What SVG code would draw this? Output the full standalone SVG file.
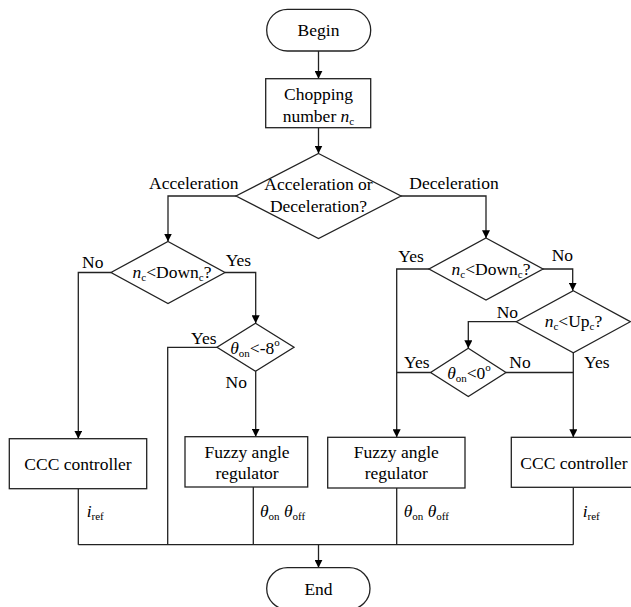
<svg xmlns="http://www.w3.org/2000/svg" width="631" height="607" viewBox="0 0 631 607">
<defs>
<marker id="ah" viewBox="0 0 10 10" refX="10" refY="5" markerWidth="8" markerHeight="8" markerUnits="userSpaceOnUse" orient="auto">
<path d="M0,0 L10,5 L0,10 z" fill="#000"/>
</marker>
<style>
.s{fill:#fff;stroke:#222;stroke-width:1.3}
.c{fill:none;stroke:#222;stroke-width:1.3}
.a{marker-end:url(#ah)}
</style>
</defs>
<rect width="631" height="607" fill="#fff"/>
<g id="connectors">
<path class="c a" d="M318.5,51 V78.7"/>
<path class="c a" d="M318.5,127.7 V153.5"/>
<path class="c a" d="M236,196 H168 V241.5"/>
<path class="c a" d="M111,272.5 H78.3 V438.7"/>
<path class="c a" d="M225,272.5 H255.7 V323.3"/>
<path class="c" d="M217,347.3 H167.7 V544.7"/>
<path class="c a" d="M255.7,371.3 V436.7"/>
<path class="c" d="M253.3,487 V544.7"/>
<path class="c" d="M78.3,488.7 V544.7"/>
<path class="c" d="M78.3,544.7 H573.3"/>
<path class="c a" d="M318.5,544.7 V567.7"/>
<path class="c a" d="M401,196 H486 V238.3"/>
<path class="c a" d="M429,269 H396.7 V437.3"/>
<path class="c a" d="M543,269 H572.7 V290.7"/>
<path class="c a" d="M516.3,321.7 H468.3 V348.3"/>
<path class="c" d="M430.6,372.5 H396.7"/>
<path class="c" d="M506,372.5 H573.3"/>
<path class="c a" d="M573.3,352.7 V437.3"/>
<path class="c" d="M396.7,488 V544.7"/>
<path class="c" d="M573.3,487.3 V544.7"/>
</g>
<g font-family="Liberation Serif" font-size="17.5" fill="#000">
<g id="begin">
<rect class="s" x="266.7" y="9.3" width="104" height="41.7" rx="20.8"/>
<text style="font-family:'Liberation Serif',serif" text-anchor="middle" x="318.5" y="36">Begin</text>
</g>
<g id="chopping">
<rect class="s" x="265.7" y="78.7" width="105" height="49"/>
<text style="font-family:'Liberation Serif',serif" text-anchor="middle" x="318.5" y="100">Chopping</text>
<text style="font-family:'Liberation Serif',serif" text-anchor="middle" x="318.5" y="121.5">number <tspan font-style="italic">n</tspan><tspan font-size="11" dy="3">c</tspan></text>
</g>
<g id="accdec">
<path class="s" d="M318.5,153.5 L401,196 L318.5,238.5 L236,196 Z"/>
<text style="font-family:'Liberation Serif',serif" text-anchor="middle" x="318.5" y="190">Acceleration or</text>
<text style="font-family:'Liberation Serif',serif" text-anchor="middle" x="318.5" y="212">Deceleration?</text>
</g>
<g id="labels-top">
<text style="font-family:'Liberation Serif',serif" text-anchor="middle" x="193.7" y="189">Acceleration</text>
<text style="font-family:'Liberation Serif',serif" text-anchor="middle" x="454" y="189">Deceleration</text>
</g>
<g id="down-left">
<path class="s" d="M168,241.5 L225,272.5 L168,303.5 L111,272.5 Z"/>
<text style="font-family:'Liberation Serif',serif" text-anchor="middle" x="172" y="278"><tspan font-style="italic">n</tspan><tspan font-size="11" dy="3">c</tspan><tspan dy="-3">&lt;Down</tspan><tspan font-size="11" dy="3">c</tspan><tspan dy="-3">?</tspan></text>
<text style="font-family:'Liberation Serif',serif" x="82" y="267.5">No</text>
<text style="font-family:'Liberation Serif',serif" x="225.7" y="266">Yes</text>
</g>
<g id="theta-left">
<path class="s" d="M255.5,323.3 L294,347.3 L255.5,371.3 L217,347.3 Z"/>
<text style="font-family:'Liberation Serif',serif" text-anchor="middle" x="255" y="354"><tspan font-style="italic">&#952;</tspan><tspan font-size="11" dy="3">on</tspan><tspan dy="-3">&lt;-8</tspan><tspan font-size="11" dy="-8">o</tspan></text>
<text style="font-family:'Liberation Serif',serif" x="191" y="344">Yes</text>
<text style="font-family:'Liberation Serif',serif" x="225.5" y="388">No</text>
</g>
<g id="ccc-left">
<rect class="s" x="9.3" y="438.7" width="137.4" height="50"/>
<text style="font-family:'Liberation Serif',serif" text-anchor="middle" x="78" y="470">CCC controller</text>
<text style="font-family:'Liberation Serif',serif" x="86.7" y="517"><tspan font-style="italic">i</tspan><tspan font-size="11" dy="3">ref</tspan></text>
</g>
<g id="fuzzy-left">
<rect class="s" x="185" y="436.7" width="122.7" height="50.3"/>
<text style="font-family:'Liberation Serif',serif" text-anchor="middle" x="247" y="458.3">Fuzzy angle</text>
<text style="font-family:'Liberation Serif',serif" text-anchor="middle" x="247" y="479.3">regulator</text>
<text style="font-family:'Liberation Serif',serif" x="260" y="517"><tspan font-style="italic">&#952;</tspan><tspan font-size="11" dy="3">on</tspan><tspan dy="-3"> </tspan><tspan font-style="italic">&#952;</tspan><tspan font-size="11" dy="3">off</tspan></text>
</g>
<g id="down-right">
<path class="s" d="M486,238 L543,269 L486,300 L429,269 Z"/>
<text style="font-family:'Liberation Serif',serif" text-anchor="middle" x="491" y="275"><tspan font-style="italic">n</tspan><tspan font-size="11" dy="3">c</tspan><tspan dy="-3">&lt;Down</tspan><tspan font-size="11" dy="3">c</tspan><tspan dy="-3">?</tspan></text>
<text style="font-family:'Liberation Serif',serif" x="398.3" y="261.7">Yes</text>
<text style="font-family:'Liberation Serif',serif" x="551.7" y="261">No</text>
</g>
<g id="up-right">
<path class="s" d="M573.3,290.7 L630.3,321.7 L573.3,352.7 L516.3,321.7 Z"/>
<text style="font-family:'Liberation Serif',serif" text-anchor="middle" x="573.5" y="327"><tspan font-style="italic">n</tspan><tspan font-size="11" dy="3">c</tspan><tspan dy="-3">&lt;Up</tspan><tspan font-size="11" dy="3">c</tspan><tspan dy="-3">?</tspan></text>
<text style="font-family:'Liberation Serif',serif" x="496.7" y="317.7">No</text>
<text style="font-family:'Liberation Serif',serif" x="584" y="368.3">Yes</text>
</g>
<g id="theta-right">
<path class="s" d="M468.3,348.3 L506,372.5 L468.3,396.5 L430.6,372.5 Z"/>
<text style="font-family:'Liberation Serif',serif" text-anchor="middle" x="469" y="379"><tspan font-style="italic">&#952;</tspan><tspan font-size="11" dy="3">on</tspan><tspan dy="-3">&lt;0</tspan><tspan font-size="11" dy="-8">o</tspan></text>
<text style="font-family:'Liberation Serif',serif" x="404" y="368.3">Yes</text>
<text style="font-family:'Liberation Serif',serif" x="509.3" y="368.3">No</text>
</g>
<g id="fuzzy-right">
<rect class="s" x="327.7" y="437.3" width="137.3" height="50.7"/>
<text style="font-family:'Liberation Serif',serif" text-anchor="middle" x="396.3" y="458">Fuzzy angle</text>
<text style="font-family:'Liberation Serif',serif" text-anchor="middle" x="396.3" y="479">regulator</text>
<text style="font-family:'Liberation Serif',serif" x="403.7" y="517"><tspan font-style="italic">&#952;</tspan><tspan font-size="11" dy="3">on</tspan><tspan dy="-3"> </tspan><tspan font-style="italic">&#952;</tspan><tspan font-size="11" dy="3">off</tspan></text>
</g>
<g id="ccc-right">
<rect class="s" x="511.3" y="437.3" width="126" height="50"/>
<text style="font-family:'Liberation Serif',serif" text-anchor="middle" x="574" y="468.5">CCC controller</text>
<text style="font-family:'Liberation Serif',serif" x="582.7" y="517"><tspan font-style="italic">i</tspan><tspan font-size="11" dy="3">ref</tspan></text>
</g>
<g id="end">
<rect class="s" x="266.7" y="567.7" width="103.3" height="41.7" rx="20.8"/>
<text style="font-family:'Liberation Serif',serif" text-anchor="middle" x="318.5" y="595">End</text>
</g>
</g>
</svg>
